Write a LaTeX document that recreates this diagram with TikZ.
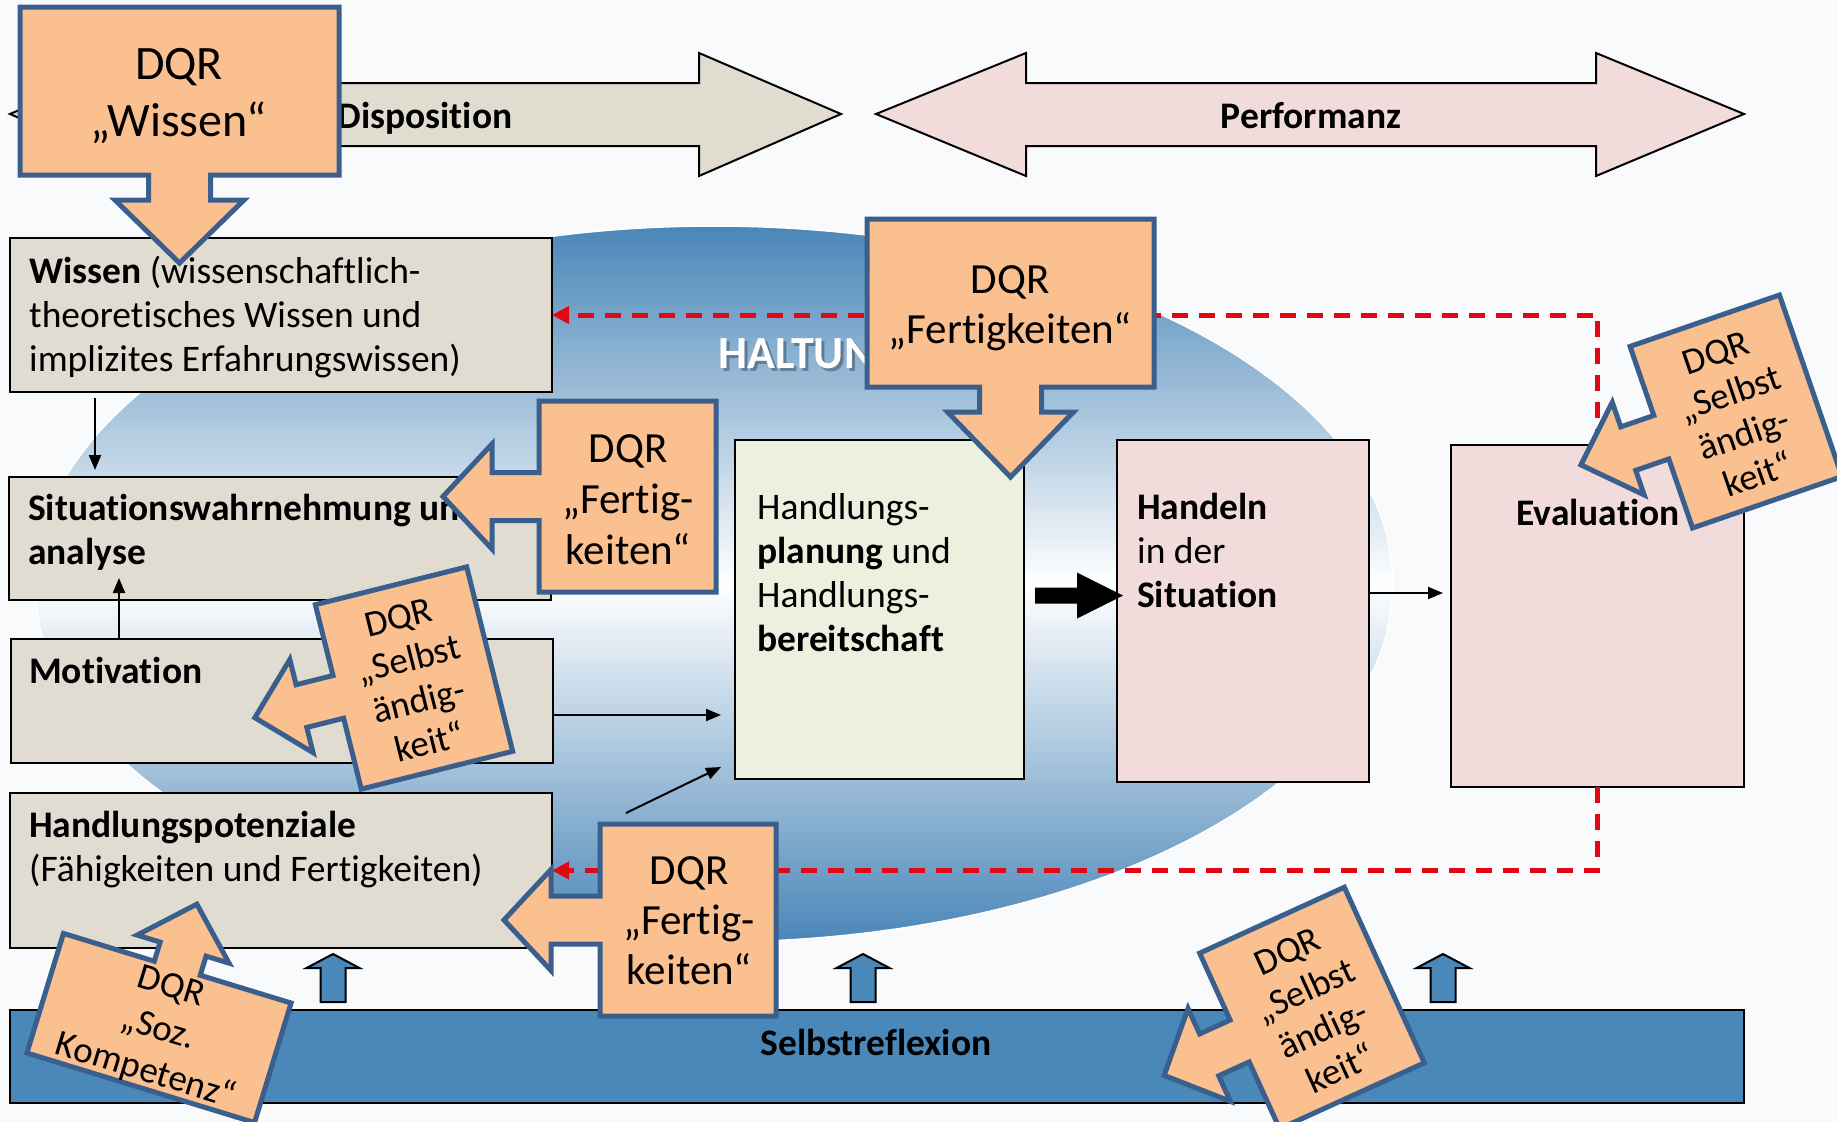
\documentclass[tikz,border=0pt]{standalone}
\usepackage{fontspec}
\setmainfont{Carlito}[Ligatures=NoCommon]
\usetikzlibrary{arrows.meta,calc}
\definecolor{bgc}{RGB}{249,250,252}
\definecolor{ellblue}{RGB}{74,134,184}
\definecolor{barblue}{RGB}{74,136,185}
\definecolor{orfill}{RGB}{250,192,144}
\definecolor{orline}{RGB}{58,95,141}
\definecolor{boxgrey}{RGB}{224,220,209}
\definecolor{dispfill}{RGB}{224,221,208}
\definecolor{pinkfill}{RGB}{242,220,219}
\definecolor{greenfill}{RGB}{235,241,222}
\definecolor{dred}{RGB}{227,6,19}
\tikzset{
 box/.style={draw=black, line width=2.5pt, inner sep=0pt, outer sep=0pt},
 txt/.style={inner sep=0pt, align=left, font=\fontsize{37.5}{44}\selectfont, anchor=base west},
 lbl/.style={inner sep=0pt, font=\fontsize{37.5}{44}\selectfont\bfseries, anchor=base},
 callout/.style={draw=orline, fill=orfill, line width=5pt, line join=miter},
 ctxt/.style={inner sep=0pt, align=center},
 arr/.style={line width=2pt, -{Triangle[length=15pt,width=12pt]}},
 redarr/.style={draw=dred, line width=5pt, dash pattern=on 16pt off 11pt, -{Triangle[length=17pt,width=17pt]}},
 uparrow/.style={draw=black, fill=barblue, line width=2pt, line join=miter},
 bigshape/.style={draw=black, line width=2pt, line join=miter},
 haltung/.style={inner sep=0pt, font=\fontsize{46}{50}\selectfont\bfseries, anchor=base west},
}
\newcommand\calloutL[6]{(-#1,-#2) -- (#1,-#2) -- (#1,#2) -- (-#1,#2) -- (-#1,#3) -- ({-#1-#4},#3) -- ({-#1-#4},#5) -- ({-#1-#6},0) -- ({-#1-#4},-#5) -- ({-#1-#4},-#3) -- (-#1,-#3) -- cycle}
\newcommand\calloutD[6]{(-#1,-#2) -- (#1,-#2) -- (#1,#2) -- (#3,#2) -- (#3,{#2+#4}) -- (#5,{#2+#4}) -- (0,{#2+#6}) -- (-#5,{#2+#4}) -- (-#3,{#2+#4}) -- (-#3,#2) -- (-#1,#2) -- cycle}
\newcommand\calloutU[6]{(-#1,#2) -- (#1,#2) -- (#1,-#2) -- (#3,-#2) -- (#3,{-#2-#4}) -- (#5,{-#2-#4}) -- (0,{-#2-#6}) -- (-#5,{-#2-#4}) -- (-#3,{-#2-#4}) -- (-#3,-#2) -- (-#1,-#2) -- cycle}
\begin{document}
\begin{tikzpicture}[x=1pt,y=-1pt]
\useasboundingbox (0,0) rectangle (1837,1122);
\fill[bgc] (0,0) rectangle (1837,1122);
% top double arrows
\draw[bigshape, fill=dispfill] (10,114) -- (152,53) -- (152,83) -- (699,83) -- (699,53) -- (841,114) -- (699,176) -- (699,146) -- (152,146) -- (152,176) -- cycle;
\node[lbl] (disp) at (425,128) {Disposition};
\draw[bigshape, fill=pinkfill] (876,114) -- (1026,53) -- (1026,83) -- (1596,83) -- (1596,53) -- (1744,114) -- (1596,176) -- (1596,146) -- (1026,146) -- (1026,176) -- cycle;
\node[lbl] (perf) at (1311,128) {Performanz};
% ellipse
\shade[top color=ellblue, bottom color=ellblue, middle color=white] (714,584) ellipse [x radius=679pt, y radius=358pt];
\draw[white, line width=1.5pt] (714,584) ellipse [x radius=679pt, y radius=358pt];
\node[haltung, text=black, opacity=0.3] (haltsh) at (721,371) {HALTUNG};
\node[haltung, text=white] (halt) at (718,368) {HALTUNG};
% boxes
\node[box, fill=boxgrey, minimum width=542pt, minimum height=154pt] (wissen) at (281,315) {};
\node[box, fill=boxgrey, minimum width=542pt, minimum height=123pt] (situation) at (280,538.5) {};
\node[box, fill=boxgrey, minimum width=542pt, minimum height=124pt] (motivation) at (282,701) {};
\node[box, fill=boxgrey, minimum width=542pt, minimum height=155pt] (potenz) at (281,870.5) {};
\node[box, fill=greenfill, minimum width=289pt, minimum height=339pt] (plan) at (879.5,609.5) {};
\node[box, fill=pinkfill, minimum width=252pt, minimum height=342pt] (handeln) at (1243,611) {};
\node[box, fill=pinkfill, minimum width=293pt, minimum height=342pt] (eval) at (1597.5,616) {};
% multi-line texts: base = baseline of last line
\node[txt] (twissen) at (29,371) {\textbf{Wissen} (wissenschaftlich-\\theoretisches Wissen und\\implizites Erfahrungswissen)};
\node[txt] (tsituation) at (28,564) {\textbf{Situationswahrnehmung und}\\\textbf{analyse}};
\node[txt] (tmotivation) at (29,683) {\textbf{Motivation}};
\node[txt] (tpotenz) at (29,881) {\textbf{Handlungspotenziale}\\(Fähigkeiten und Fertigkeiten)};
\node[txt] (tplan) at (757,651) {Handlungs-\\\textbf{planung} und\\Handlungs-\\\textbf{bereitschaft}};
\node[txt] (thandeln) at (1137,607) {\textbf{Handeln}\\in der\\\textbf{Situation}};
\node[lbl] (teval) at (1598,525) {Evaluation};
% connectors
\draw[arr] ($(wissen.south west)+(85,6)$) -- ($(situation.north west)+(86,-7)$);
\coordinate (m1) at ($(motivation.north west)+(108,0)$);
\coordinate (m2) at ($(situation.south west)+(110,-22)$);
\draw[arr] (m1) -- (m2);
\coordinate (mp) at (motivation.east -| plan.west);
\draw[arr] ($(motivation.east)+(0,14)$) -- ($(mp)+(-14,14)$);
\coordinate (d1) at (626,813);
\draw[arr] (d1) -- ($(plan.south west)+(-14,-12)$);
\coordinate (he) at (handeln.east -| eval.west);
\draw[arr] ($(handeln.east)+(0,-18)$) -- ($(he)+(-8,-18)$);
\begin{scope}[shift={($(plan.east)+(11,-14)$)}]
\fill[black] (0,-8) -- (42,-8) -- (42,-23) -- (88,0) -- (42,23) -- (42,8) -- (0,8) -- cycle;
\end{scope}
\draw[redarr] (eval.north) |- (wissen.east);
\draw[redarr] (eval.south) |- (potenz.east);
% Selbstreflexion bar
\node[box, line width=2pt, fill=barblue, minimum width=1734pt, minimum height=93pt] (bar) at (877,1056.5) {};
\node[lbl] (tbar) at (876,1055) {Selbstreflexion};
\foreach \ux in {333,863,1443}
  \draw[uparrow] ({\ux-12.5},1002) -- ({\ux-12.5},968) -- ({\ux-26.5},968) -- (\ux,954) -- ({\ux+26.5},968) -- ({\ux+12.5},968) -- ({\ux+12.5},1002) -- cycle;
% callouts
\begin{scope}[shift={(179.5,91)}]
\draw[callout] \calloutD{159.5}{84}{31}{25}{64.5}{88};
\end{scope}
\node[ctxt, font=\fontsize{48}{57}\selectfont] (cwissen) at (179,96) {DQR\\„Wissen“};
\begin{scope}[shift={(1010.5,303)}]
\draw[callout] \calloutD{143.5}{84}{31}{25}{63}{90};
\end{scope}
\node[ctxt, font=\fontsize{43}{50}\selectfont] (cfert1) at (1010,308) {DQR\\„Fertigkeiten“};
\begin{scope}[shift={(627.5,496.5)}]
\draw[callout] \calloutL{88.5}{95.5}{24}{47}{52.5}{96};
\end{scope}
\node[ctxt, font=\fontsize{43}{51}\selectfont] (cfert2) at (628,500) {DQR\\„Fertig-\\keiten“};
\begin{scope}[shift={(688,920)}]
\draw[callout] \calloutL{88}{96}{24}{49}{50.5}{96};
\end{scope}
\node[ctxt, font=\fontsize{43}{50}\selectfont] (cfert3) at (689,921) {DQR\\„Fertig-\\keiten“};
\begin{scope}[shift={(414,678)}, rotate=14]
\draw[callout] \calloutL{78}{95}{22}{38}{48}{86};
\end{scope}
\node[ctxt, font=\fontsize{37}{43}\selectfont, rotate=14] (cselbst1) at (414,680) {DQR\\„Selbst\\ändig-\\keit“};
\begin{scope}[shift={(1736,411.5)}, rotate=19]
\draw[callout] \calloutL{79}{96}{23}{35}{49}{85};
\end{scope}
\node[ctxt, font=\fontsize{37}{43}\selectfont, rotate=19] (cselbst2) at (1737,414) {DQR\\„Selbst\\ändig-\\keit“};
\begin{scope}[shift={(1312,1008)}, rotate=24.5]
\draw[callout] \calloutL{79.5}{96.5}{23}{33.5}{51}{83};
\end{scope}
\node[ctxt, font=\fontsize{37}{43}\selectfont, rotate=24.5] (cselbst3) at (1314,1010) {DQR\\„Selbst\\ändig-\\keit“};
\begin{scope}[shift={(159,1028)}, rotate=-17]
\draw[callout] \calloutU{119}{62.5}{24}{20}{48}{67};
\end{scope}
\node[ctxt, font=\fontsize{37}{44}\selectfont, rotate=-17] (csoz) at (158,1030) {DQR\\„Soz.\\Kompetenz“};
\end{tikzpicture}
\end{document}
